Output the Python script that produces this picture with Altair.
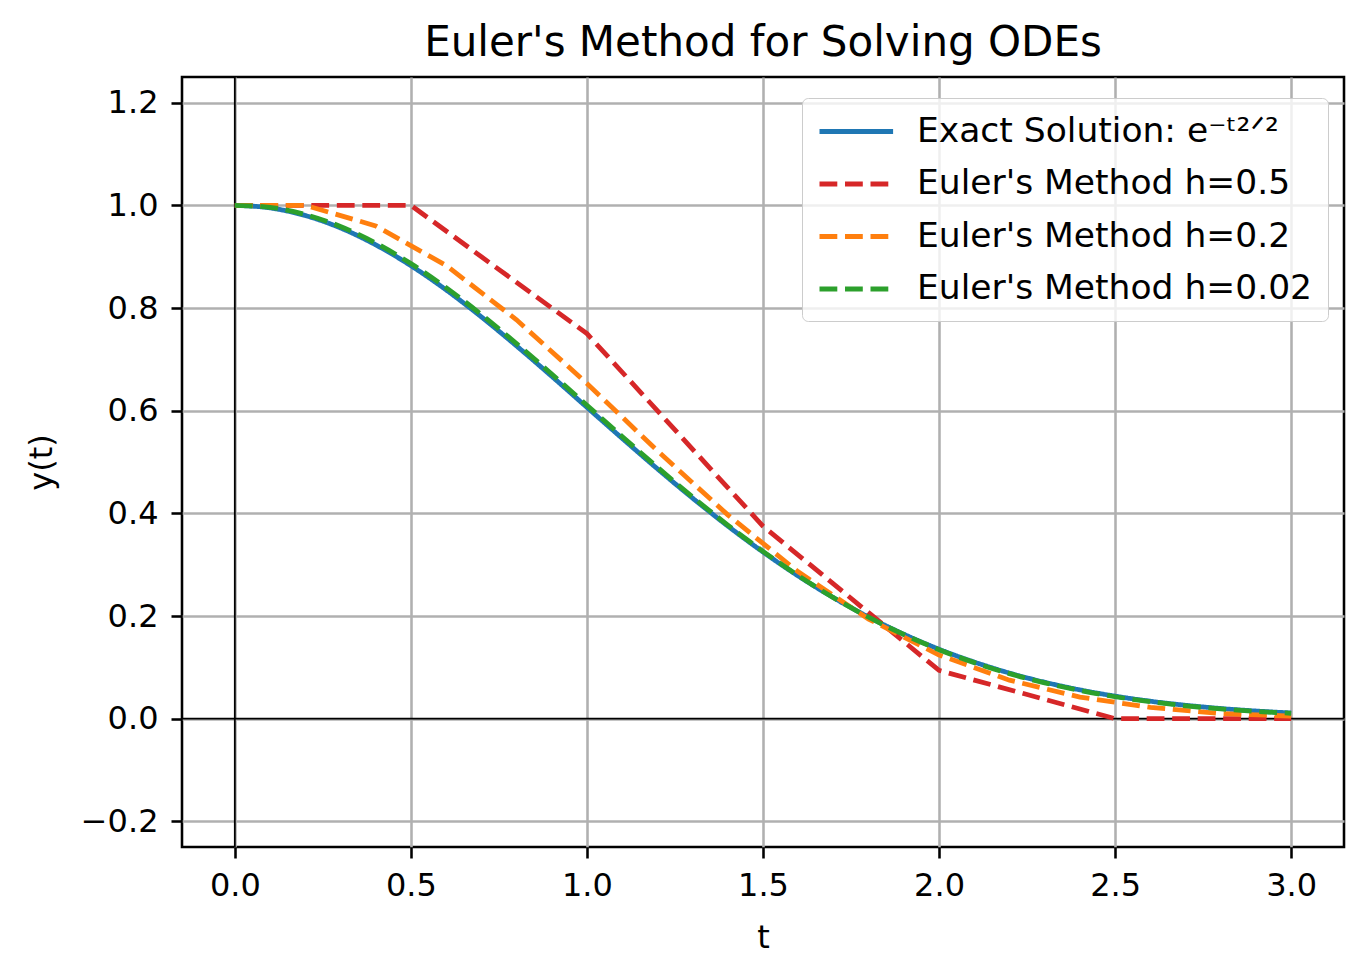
import altair as alt
import pandas as pd

# ---- data ----
t_exact = [0.0, 0.1, 0.2, 0.3, 0.4, 0.5, 0.6, 0.7, 0.8, 0.9, 1.0, 1.1, 1.2, 1.3, 1.4, 1.5,
           1.6, 1.7, 1.8, 1.9, 2.0, 2.1, 2.2, 2.3, 2.4, 2.5, 2.6, 2.7, 2.8, 2.9, 3.0]
y_exact = [1.0, 0.9950, 0.9802, 0.9560, 0.9231, 0.8825, 0.8353, 0.7827, 0.7261, 0.6670,
           0.6065, 0.5461, 0.4868, 0.4296, 0.3753, 0.3247, 0.2780, 0.2357, 0.1979, 0.1645,
           0.1353, 0.1103, 0.0889, 0.0710, 0.0561, 0.0439, 0.0340, 0.0261, 0.0198, 0.0149, 0.0111]

t_h05 = [0.0, 0.5, 1.0, 1.5, 2.0, 2.5, 3.0]
y_h05 = [1.0, 1.0, 0.75, 0.375, 0.094, 0.0, 0.0]

t_h02 = [0.0, 0.2, 0.4, 0.6, 0.8, 1.0, 1.2, 1.4, 1.6, 1.8, 2.0, 2.2, 2.4, 2.6, 2.8, 3.0]
y_h02 = [1.0, 1.0, 0.96, 0.883, 0.777, 0.653, 0.522, 0.397, 0.286, 0.194, 0.124,
         0.075, 0.042, 0.022, 0.010, 0.005]

t_h002 = [0.0, 0.1, 0.2, 0.3, 0.4, 0.5, 0.6, 0.7, 0.8, 0.9, 1.0, 1.1, 1.2, 1.3, 1.4, 1.5,
          1.6, 1.7, 1.8, 1.9, 2.0, 2.1, 2.2, 2.3, 2.4, 2.5, 2.6, 2.7, 2.8, 2.9, 3.0]
y_h002 = [1.0, 0.9960, 0.9821, 0.9588, 0.9266, 0.8866, 0.8397, 0.7873, 0.7307, 0.6714,
          0.6106, 0.5497, 0.4899, 0.4320, 0.3771, 0.3259, 0.2787, 0.2358, 0.1976, 0.1639,
          0.1344, 0.1092, 0.0877, 0.0698, 0.0549, 0.0427, 0.0329, 0.0251, 0.0189, 0.0141, 0.0105]

series_names = ["Exact Solution: e⁻ᵗ²ᐟ²", "Euler's Method h=0.5",
                "Euler's Method h=0.2", "Euler's Method h=0.02"]
series_colors = ["#1f77b4", "#d62728", "#ff7f0e", "#2ca02c"]
series_dashes = [[1, 0], [17.8, 7.7], [17.8, 7.7], [17.8, 7.7]]

x_ticks = [0.0, 0.5, 1.0, 1.5, 2.0, 2.5, 3.0]
y_ticks = [-0.2, 0.0, 0.2, 0.4, 0.6, 0.8, 1.0, 1.2]

W, H = 1162, 770
FONT = "DejaVu Sans"


def frame(ts, ys, name):
    return pd.DataFrame({"t": ts, "y": ys, "series": [name] * len(ts)})


df_exact = frame(t_exact, y_exact, series_names[0])
df_h05 = frame(t_h05, y_h05, series_names[1])
df_h02 = frame(t_h02, y_h02, series_names[2])
df_h002 = frame(t_h002, y_h002, series_names[3])

x_enc = alt.X("t:Q", scale=alt.Scale(domain=[-0.15, 3.15], nice=False, zero=False),
              axis=alt.Axis(values=x_ticks, format=".1f", title="t",
                            labelPadding=12, titlePadding=21))
y_enc = alt.Y("y:Q", scale=alt.Scale(domain=[-0.25, 1.25], nice=False, zero=False),
              axis=alt.Axis(values=y_ticks, format=".1f", title="y(t)",
                            labelPadding=13, titlePadding=22))
color_enc = alt.Color("series:N", title=None,
                      scale=alt.Scale(domain=series_names, range=series_colors),
                      sort=series_names)
dash_enc = alt.StrokeDash("series:N", title=None,
                          scale=alt.Scale(domain=series_names, range=series_dashes),
                          sort=series_names)


def line_layer(df, interp):
    return alt.Chart(df).mark_line(strokeWidth=4.8, interpolate=interp, strokeCap="butt").encode(
        x=x_enc, y=y_enc, color=color_enc, strokeDash=dash_enc)


zero_h = alt.Chart(pd.DataFrame({"y": [0.0]})).mark_rule(color="black", strokeWidth=1.8).encode(y="y:Q")
zero_v = alt.Chart(pd.DataFrame({"t": [0.0]})).mark_rule(color="black", strokeWidth=1.8).encode(x="t:Q")

chart = alt.layer(
    zero_h, zero_v,
    line_layer(df_exact, "monotone"),
    line_layer(df_h05, "linear"),
    line_layer(df_h02, "linear"),
    line_layer(df_h002, "monotone"),
).properties(
    width=W, height=H,
    title=alt.TitleParams("Euler's Method for Solving ODEs", font=FONT, fontSize=42,
                          fontWeight="normal", color="black", anchor="middle",
                          baseline="bottom", offset=15, dy=46),
    autosize=alt.AutoSizeParams(type="none"),
    padding={"left": 182, "top": 77, "right": 25, "bottom": 131},
).configure_view(
    stroke="black", strokeWidth=2.56
).configure_axis(
    labelFont=FONT, labelFontSize=32, labelColor="black",
    titleFont=FONT, titleFontSize=32, titleFontWeight="normal", titleColor="black",
    domain=False, ticks=True, tickColor="black", tickWidth=2.56, tickSize=11,
    grid=True, gridColor="#b0b0b0", gridWidth=2.56, gridOpacity=1,
).configure_legend(
    orient="none", legendX=620, legendY=21,
    fillColor="rgba(255,255,255,0.8)", strokeColor="#cccccc", cornerRadius=6,
    padding=15, rowPadding=17.5,
    labelFont=FONT, labelFontSize=34.5, labelColor="black", labelOffset=63,
    symbolType="M-1,0H3.6", symbolSize=1024, symbolStrokeWidth=4.8,
    labelLimit=600,
)

chart.save("out.html", embed_options={"renderer": "svg", "actions": False})
